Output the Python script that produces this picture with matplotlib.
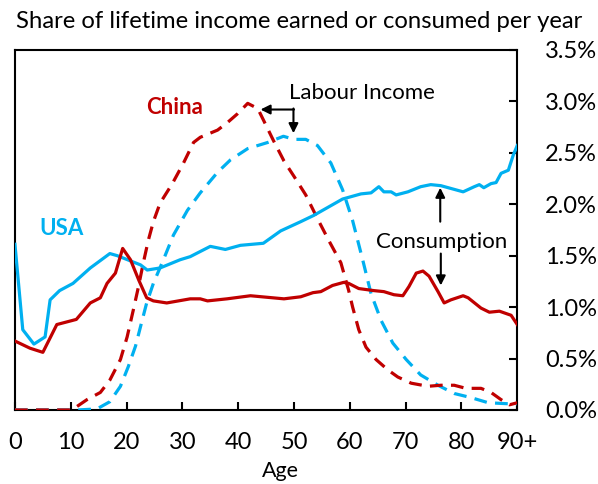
import matplotlib
matplotlib.use("Agg")
import matplotlib.pyplot as plt

plt.rcParams['font.family'] = ['Lato', 'DejaVu Sans']

BLUE = '#00B0F0'
RED = '#C00000'

# consumption, share of lifetime total per year of age (%)
usa_cons_age = [0, 1.4, 3.4, 5.4, 6.3, 8, 10.4, 13.5, 17, 18.3, 22.5, 23.7, 26, 29.6, 31.4,
                35, 37.7, 40.4, 44.5, 47.6, 51.2, 53.5, 58.7, 62, 63.8, 65.2, 66.1, 67.4,
                68.3, 70.4, 72.7, 74.5, 76.3, 80.3, 82.3, 83.2, 84, 85.3, 86.2, 87.1, 88.4,
                89.3, 90]
usa_cons = [1.61, 0.78, 0.64, 0.71, 1.07, 1.16, 1.23, 1.38, 1.52, 1.50, 1.41, 1.36, 1.38,
            1.46, 1.49, 1.59, 1.56, 1.60, 1.62, 1.74, 1.83, 1.89, 2.05, 2.10, 2.11, 2.17,
            2.12, 2.12, 2.09, 2.12, 2.17, 2.19, 2.18, 2.12, 2.17, 2.19, 2.16, 2.20, 2.21,
            2.30, 2.33, 2.48, 2.57]

china_cons_age = [0, 2.7, 5, 6.3, 7.5, 11, 13.5, 15.3, 16.5, 18, 19.3, 20.7, 22.2, 23.6,
                  24.8, 27.2, 31.4, 33.2, 34.5, 38, 42.2, 48.2, 51.2, 53.4, 54.8, 56.9,
                  58.9, 59.8, 61.6, 64.3, 66.1, 67.9, 69.5, 70.6, 71.9, 73.1, 74.2, 75.8,
                  76.9, 78.1, 80.3, 81.2, 83.5, 85, 86.8, 88.9, 90]
china_cons = [0.67, 0.60, 0.56, 0.70, 0.83, 0.88, 1.04, 1.09, 1.23, 1.33, 1.57, 1.46, 1.26,
              1.09, 1.06, 1.04, 1.08, 1.08, 1.06, 1.08, 1.11, 1.08, 1.10, 1.14, 1.15, 1.21,
              1.24, 1.23, 1.18, 1.16, 1.15, 1.12, 1.11, 1.20, 1.33, 1.35, 1.30, 1.15, 1.04,
              1.07, 1.11, 1.09, 0.99, 0.95, 0.96, 0.92, 0.83]

# labour income
usa_inc_age = [0, 11.3, 14.7, 17, 18.9, 20.3, 21.6, 22.5, 23.6, 24.8, 26.6, 28.4, 30.9,
               33.2, 36.3, 38.6, 41.7, 45.3, 48.1, 50, 52.1, 54.2, 56.6, 58.7, 60.5, 62.3,
               63.8, 65.6, 67.7, 70.1, 72.7, 75.8, 78.7, 81.7, 84.8, 88.4, 90]
usa_inc = [0, 0, 0.01, 0.08, 0.23, 0.42, 0.62, 0.81, 1.04, 1.23, 1.46, 1.70, 1.94, 2.11,
           2.31, 2.43, 2.54, 2.60, 2.66, 2.63, 2.63, 2.57, 2.40, 2.14, 1.84, 1.46, 1.13,
           0.87, 0.65, 0.49, 0.34, 0.24, 0.16, 0.12, 0.07, 0.06, 0.06]

china_inc_age = [0, 10.2, 12.9, 15.3, 17, 18.9, 20.1, 21.2, 22.1, 23, 23.9, 24.8, 26, 28.2,
                 30.2, 32, 33.2, 36.3, 38, 39.9, 41.7, 43.5, 44.5, 46.3, 48.2, 50, 52.1,
                 54.2, 56.2, 58.4, 59.8, 60.5, 61.6, 62.9, 64.7, 66.8, 68.6, 71, 74, 76.3,
                 78.7, 80.8, 83.5, 85.3, 87.1, 88.6, 90]
china_inc = [0, 0, 0.10, 0.17, 0.29, 0.49, 0.71, 0.97, 1.19, 1.43, 1.65, 1.83, 2.01, 2.20,
             2.40, 2.60, 2.65, 2.72, 2.79, 2.88, 2.98, 2.93, 2.82, 2.62, 2.42, 2.27, 2.09,
             1.86, 1.65, 1.43, 1.16, 1.00, 0.78, 0.61, 0.49, 0.39, 0.32, 0.26, 0.23, 0.24,
             0.24, 0.21, 0.21, 0.17, 0.10, 0.05, 0.07]

xticks = [0, 10, 20, 30, 40, 50, 60, 70, 80, 90]
xtick_labels = ['0', '10', '20', '30', '40', '50', '60', '70', '80', '90+']
yticks = [0, 0.5, 1.0, 1.5, 2.0, 2.5, 3.0, 3.5]

fig = plt.figure(figsize=(5.98, 4.84), dpi=100)
ax = fig.add_axes([0.025, 0.153, 0.840, 0.744])

dash = (4, 2.6)
ax.plot(usa_inc_age, usa_inc, color=BLUE, lw=2.3, dashes=dash, zorder=3)
ax.plot(china_inc_age, china_inc, color=RED, lw=2.3, dashes=dash, zorder=3)
ax.plot(usa_cons_age, usa_cons, color=BLUE, lw=2.3, zorder=4)
ax.plot(china_cons_age, china_cons, color=RED, lw=2.3, zorder=4)

ax.set_xlim(0, 90)
ax.set_ylim(0, 3.5)
ax.set_xticks(xticks)
ax.set_xticklabels(xtick_labels)
ax.set_yticks(yticks)
ax.set_yticklabels([f'{v:.1f}%' for v in yticks])
ax.yaxis.tick_right()
ax.tick_params(axis='y', direction='in', length=6, width=1.5, pad=20, labelsize=17)
ax.tick_params(axis='x', direction='in', length=6, width=1.5, pad=16, labelsize=17)
for s in ax.spines.values():
    s.set_linewidth(1.5)

ax.set_xlabel('Age', fontsize=15.5)
ax.xaxis.set_label_coords(0.528, -0.143)

fig.text(0.5, 0.956, 'Share of lifetime income earned or consumed per year',
         ha='center', va='center', fontsize=17.2)

ax.text(28.6, 2.94, 'China', color=RED, fontsize=16, fontweight='bold',
        ha='center', va='center')
ax.text(8.4, 1.76, 'USA', color=BLUE, fontsize=16, fontweight='bold',
        ha='center', va='center')
ax.text(62.2, 3.08, 'Labour Income', fontsize=16, ha='center', va='center')
ax.text(76.5, 1.63, 'Consumption', fontsize=16, ha='center', va='center')

arrow = dict(arrowstyle='-|>', color='black', lw=1.5, mutation_scale=14,
             shrinkA=0, shrinkB=0)
ax.annotate('', xy=(44.0, 2.92), xytext=(50.0, 2.92), arrowprops=arrow)
ax.annotate('', xy=(49.9, 2.69), xytext=(49.9, 2.93), arrowprops=arrow)
ax.annotate('', xy=(76.2, 2.16), xytext=(76.2, 1.83), arrowprops=arrow)
ax.annotate('', xy=(76.3, 1.21), xytext=(76.3, 1.52), arrowprops=arrow)

fig.savefig('out.png', dpi=100)
